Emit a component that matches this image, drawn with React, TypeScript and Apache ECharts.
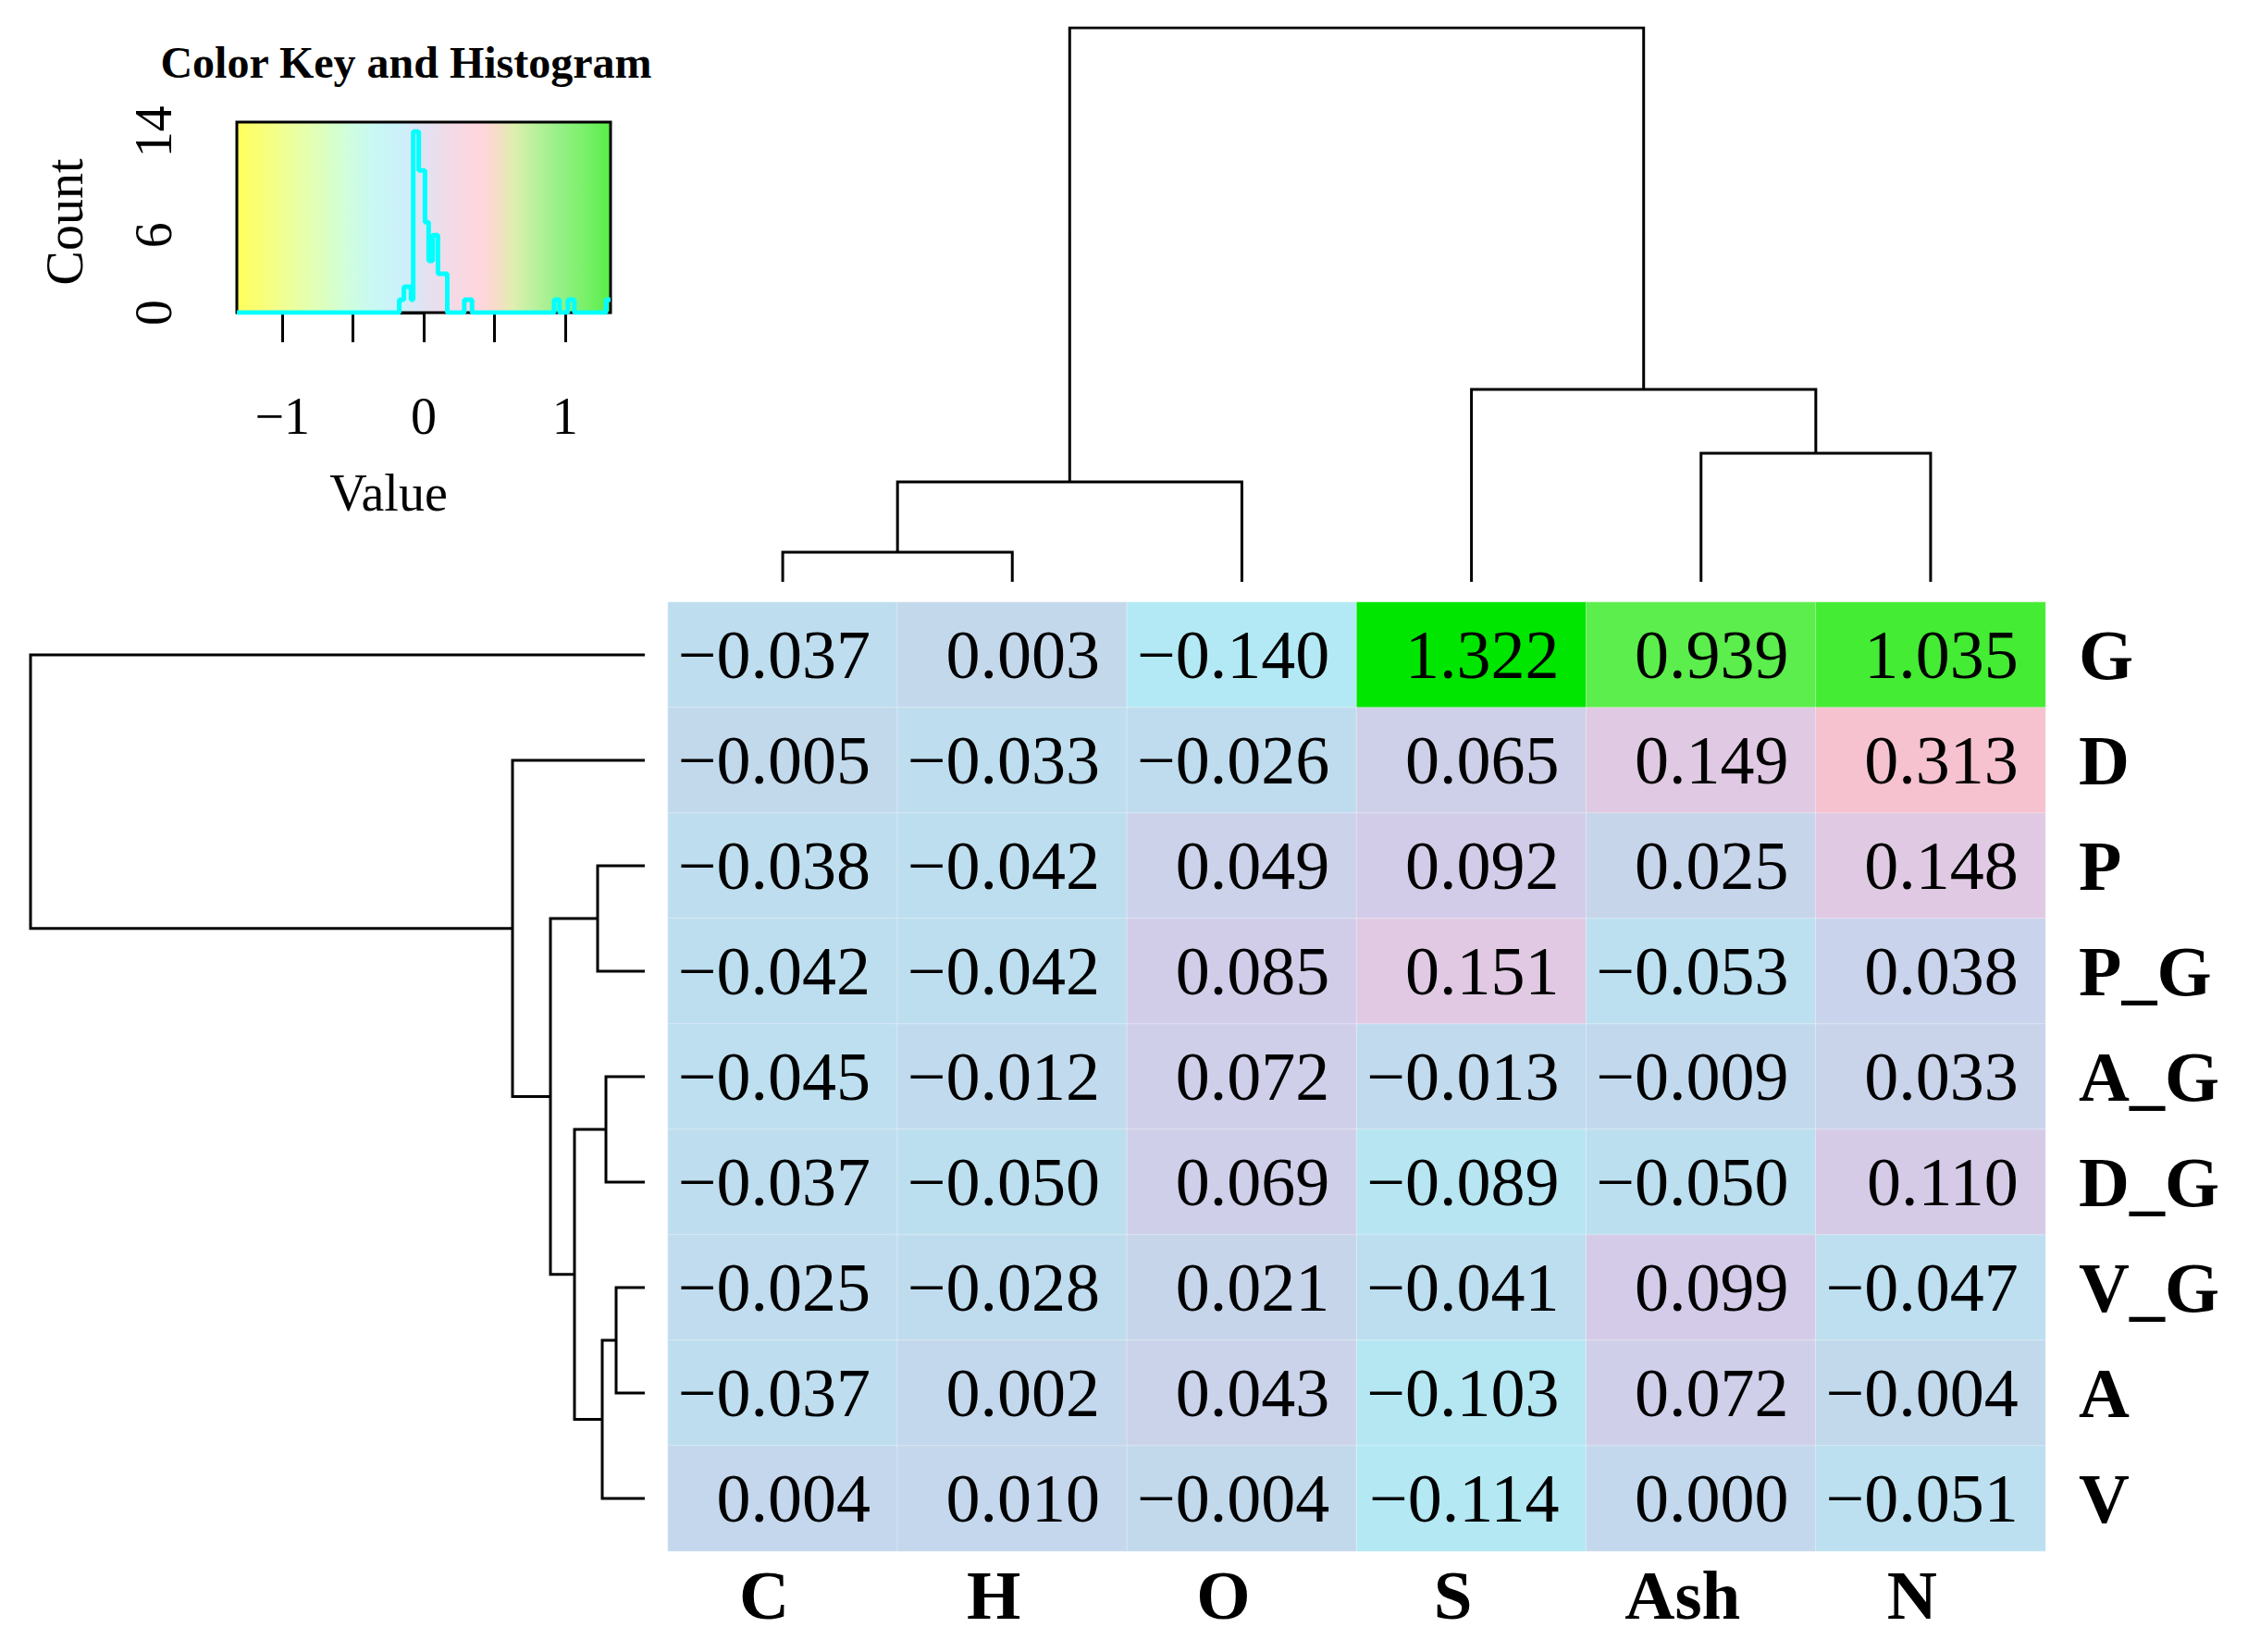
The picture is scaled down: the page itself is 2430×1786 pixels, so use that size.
import React, { useEffect, useRef } from "react";
import * as echarts from "echarts";

// ---------- data ----------
const colLabels = ["C", "H", "O", "S", "Ash", "N"];
const rowLabels = ["G", "D", "P", "P_G", "A_G", "D_G", "V_G", "A", "V"];

const rowG = [-0.037, 0.003, -0.14, 1.322, 0.939, 1.035];
const rowD = [-0.005, -0.033, -0.026, 0.065, 0.149, 0.313];
const rowP = [-0.038, -0.042, 0.049, 0.092, 0.025, 0.148];
const rowPG = [-0.042, -0.042, 0.085, 0.151, -0.053, 0.038];
const rowAG = [-0.045, -0.012, 0.072, -0.013, -0.009, 0.033];
const rowDG = [-0.037, -0.05, 0.069, -0.089, -0.05, 0.11];
const rowVG = [-0.025, -0.028, 0.021, -0.041, 0.099, -0.047];
const rowA = [-0.037, 0.002, 0.043, -0.103, 0.072, -0.004];
const rowV = [0.004, 0.01, -0.004, -0.114, 0.0, -0.051];
const cellRows = [rowG, rowD, rowP, rowPG, rowAG, rowDG, rowVG, rowA, rowV];

// dendrograms (hclust style: negative = leaf number in display order, positive = earlier merge)
const colMerge = [[-1, -2], [1, -3], [-5, -6], [-4, 3], [2, 4]];
const colHeight = [0.32, 1.08, 1.39, 2.08, 5.99];
const rowMerge = [[-7, -8], [-5, -6], [1, -9], [-3, -4], [2, 3], [4, 5], [-2, 6], [-1, 7]];
const rowHeight = [0.31, 0.42, 0.46, 0.51, 0.76, 1.02, 1.43, 6.64];

// colour key histogram (bin start value, count)
const histBinStart = [-1.322, -0.173, -0.14, -0.09, -0.074, -0.035, 0.009, 0.035, 0.064, 0.101, 0.167, 0.287, 0.342, 0.923, 0.961, 1.02, 1.066, 1.29, 1.322];
const histCount = [0, 1, 2, 1, 14, 11, 7, 4, 6, 3, 0, 1, 0, 1, 0, 1, 0, 1, 1];

const keyMin = -1.322;
const keyMax = 1.322;
const keyXTicks = [-1, -0.5, 0, 0.5, 1];
const keyXLabels = [-1, 0, 1];
const keyYTicks = [0, 2, 4, 6, 8, 10, 12, 14];
const keyYLabels = [0, 6, 14];

// ---------- styles ----------
const FONT = "'Liberation Serif', 'Times New Roman', serif";
const heatColors = [
  "#FFFF00", "#F8FF40", "#F0FF70", "#E8FF90", "#E0FFA0", "#D8FFB8", "#D0FFC8",
  "#C8FDD8", "#C0F8E4", "#B8F4EE", "#B2F0F6", "#B0EDF6", "#B5E7F3", "#C3D8EC",
  "#D4CBE8", "#EEC6DE", "#F6C2D0", "#F8C4C8", "#F0D0B8", "#D8E8A8", "#B8EE90",
  "#88EE70", "#62EE52", "#48EC38", "#30EA24", "#18E812", "#00E600",
];
const keyGradient = [
  [-1.322, "#FFFF5A"], [-1.1, "#F6FF80"], [-0.9, "#EAFFA2"], [-0.7, "#DCFFC0"],
  [-0.55, "#D0FFDA"], [-0.35, "#C8F8F4"], [-0.15, "#CCF0FA"], [0, "#E2E2F2"],
  [0.2, "#F4DAE6"], [0.4, "#FFD6DE"], [0.52, "#F6DCC8"], [0.63, "#E0EEB0"],
  [0.76, "#C0F0A0"], [0.95, "#98F088"], [1.15, "#78F068"], [1.322, "#58EE48"],
];

const fmt = (v: number, d: number) => {
  const s = Math.abs(v).toFixed(d);
  return v < 0 ? "\u2212" + s : s;
};

function dendroSegments(merge: number[][], height: number[], horizontal: boolean) {
  const pos: number[] = [];
  const hs: number[] = [];
  const node = (id: number) => (id < 0 ? [-id - 0.5, 0] : [pos[id - 1], hs[id - 1]]);
  const segs: any[] = [];
  merge.forEach(([a, b], i) => {
    const [pa, ha] = node(a);
    const [pb, hb] = node(b);
    const hi = height[i];
    pos[i] = (pa + pb) / 2;
    hs[i] = hi;
    const pts = [[pa, ha], [pa, hi], [pb, hi], [pb, hb]];
    segs.push({ coords: horizontal ? pts.map(([p, v]) => [v, p]) : pts });
  });
  return segs;
}

export default function App() {
  const ref = useRef<HTMLDivElement>(null);
  useEffect(() => {
    if (!ref.current) return;
    const chart = echarts.init(ref.current, null, { renderer: "svg" });

    const heatData: any[] = [];
    cellRows.forEach((row, r) => row.forEach((v, c) => heatData.push([c, r, v])));
    const histData = histBinStart.map((x, i) => [x, histCount[i]]);
    const span = keyMax - keyMin;
    const gradStops = keyGradient.map(([v, c]) => ({ offset: ((v as number) - keyMin) / span, color: c as string }));

    const option: any = {
      animation: false,
      backgroundColor: "#ffffff",
      grid: [
        { left: 722, top: 651, width: 1489, height: 1026 },
        { left: 722, top: 30, width: 1489, height: 599 },
        { left: 33, top: 651, width: 664, height: 1026 },
        { left: 256, top: 132, width: 404, height: 206, show: true, borderColor: "#000", borderWidth: 3, backgroundColor: "transparent", z: 3 },
      ],
      xAxis: [
        {
          gridIndex: 0, type: "category", data: colLabels, position: "bottom",
          axisLine: { show: false }, axisTick: { show: false }, splitLine: { show: false },
          axisLabel: { fontSize: 75, fontWeight: "bold", fontFamily: FONT, color: "#000", margin: 10, padding: [0, 40, 0, 0] },
        },
        { gridIndex: 1, type: "value", min: 0, max: 6, show: false },
        { gridIndex: 2, type: "value", min: 0, max: 6.64, inverse: true, show: false },
        {
          gridIndex: 3, type: "value", min: keyMin, max: keyMax,
          axisLine: { show: false }, splitLine: { show: false },
          axisTick: { show: true, customValues: keyXTicks, length: 32, lineStyle: { color: "#000", width: 3 } },
          axisLabel: { customValues: keyXLabels, formatter: (v: number) => fmt(v, 0), fontSize: 56, fontFamily: FONT, color: "#000", margin: 84 },
        },
      ],
      yAxis: [
        {
          gridIndex: 0, type: "category", data: rowLabels, inverse: true, position: "right",
          axisLine: { show: false }, axisTick: { show: false }, splitLine: { show: false },
          axisLabel: { fontSize: 76, fontWeight: "bold", fontFamily: FONT, color: "#000", margin: 36 },
        },
        { gridIndex: 1, type: "value", min: 0, max: 5.99, show: false },
        { gridIndex: 2, type: "value", min: 0, max: 9, inverse: true, show: false },
        {
          gridIndex: 3, type: "value", min: 0, max: 14.74,
          axisLine: { show: false }, splitLine: { show: false },
          axisTick: { show: true, customValues: keyYTicks, length: 30, lineStyle: { color: "#000", width: 3 } },
          axisLabel: { customValues: keyYLabels, rotate: 90, fontSize: 56, fontFamily: FONT, color: "#000", margin: 62 },
        },
      ],
      visualMap: {
        type: "continuous", show: false, seriesIndex: 0, dimension: 2,
        min: keyMin, max: keyMax, inRange: { color: heatColors },
      },
      series: [
        {
          type: "heatmap", xAxisIndex: 0, yAxisIndex: 0, data: heatData,
          itemStyle: { borderColor: "rgba(255,255,255,0.35)", borderWidth: 1 },
          label: {
            show: true, position: "insideRight", distance: 30,
            formatter: (p: any) => fmt(p.value[2], 3),
            fontSize: 74, fontFamily: FONT, color: "#000",
          },
        },
        {
          type: "lines", coordinateSystem: "cartesian2d", xAxisIndex: 1, yAxisIndex: 1,
          polyline: true, data: dendroSegments(colMerge, colHeight, false),
          lineStyle: { color: "#000", width: 3, opacity: 1 }, silent: true,
        },
        {
          type: "lines", coordinateSystem: "cartesian2d", xAxisIndex: 2, yAxisIndex: 2,
          polyline: true, data: dendroSegments(rowMerge, rowHeight, true),
          lineStyle: { color: "#000", width: 3, opacity: 1 }, silent: true,
        },
        {
          type: "line", xAxisIndex: 3, yAxisIndex: 3, data: histData, step: "end",
          showSymbol: false, symbol: "none", z: 5,
          lineStyle: { color: "#00FFFF", width: 5 },
          markArea: {
            silent: true, z: 1,
            itemStyle: { color: new echarts.graphic.LinearGradient(0, 0, 1, 0, gradStops), borderWidth: 0 },
            data: [[{ coord: [keyMin, 0] }, { coord: [keyMax, 14.74] }]],
          },
        },
      ],
      graphic: [
        {
          type: "text", x: 439, y: 67,
          style: { text: "Color Key and Histogram", font: `bold 48px ${FONT}`, fill: "#000", align: "center", verticalAlign: "middle", textAlign: "center", textVerticalAlign: "middle" },
        },
        {
          type: "text", x: 70, y: 240, rotation: Math.PI / 2,
          style: { text: "Count", font: `56px ${FONT}`, fill: "#000", align: "center", verticalAlign: "middle", textAlign: "center", textVerticalAlign: "middle" },
        },
        {
          type: "text", x: 420, y: 533,
          style: { text: "Value", font: `56px ${FONT}`, fill: "#000", align: "center", verticalAlign: "middle", textAlign: "center", textVerticalAlign: "middle" },
        },
      ],
    };
    chart.setOption(option);
    return () => chart.dispose();
  }, []);
  return (
    <div
      ref={ref}
      style={{ position: "fixed", left: 0, top: 0, width: 2430, height: 1786, background: "#fff" }}
    />
  );
}
